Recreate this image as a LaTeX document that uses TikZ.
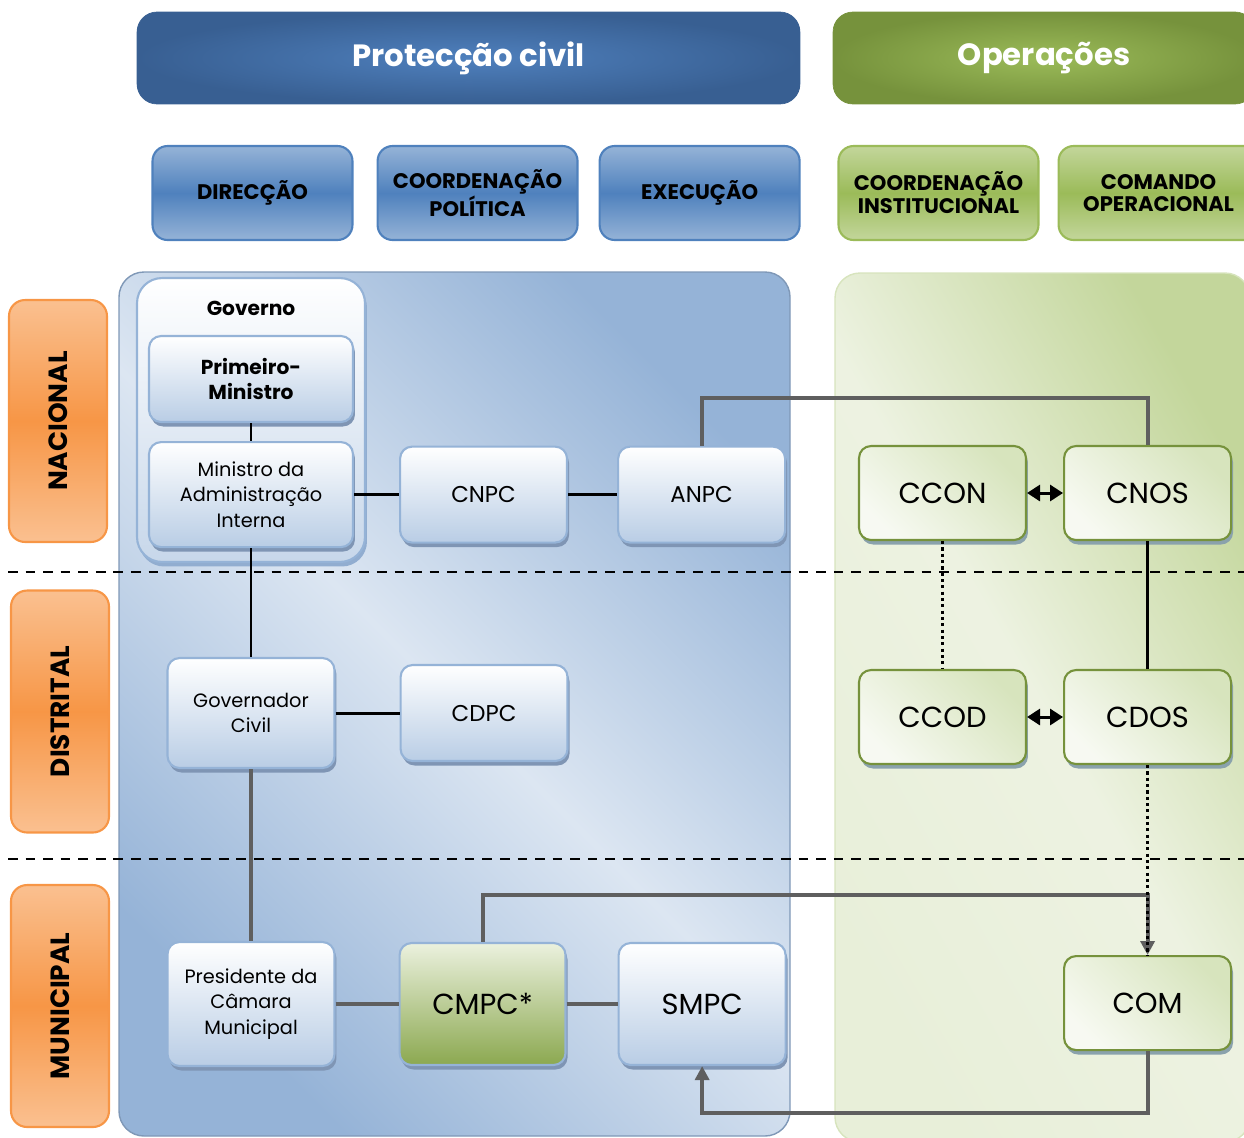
\documentclass[tikz,border=0pt]{standalone}
\usepackage{fontspec}
\setmainfont{Poppins}
\usetikzlibrary{positioning, shadows, arrows.meta}

\definecolor{pcdark}{HTML}{385F92}
\definecolor{pcmid}{HTML}{4F80BD}
\definecolor{pcline}{HTML}{4F81BD}
\definecolor{pclight}{HTML}{95B3D7}
\definecolor{pcpale}{HTML}{DCE6F2}
\definecolor{pcbox}{HTML}{B9CDE5}
\definecolor{pcshadow}{HTML}{7F95B4}
\definecolor{opdark}{HTML}{76923C}
\definecolor{opmid}{HTML}{9BBB59}
\definecolor{oplight}{HTML}{C3D69B}
\definecolor{oppale}{HTML}{EBF1DE}
\definecolor{opbox}{HTML}{D7E4BD}
\definecolor{opshadow}{HTML}{8AA2AC}
\definecolor{lvldark}{HTML}{F79646}
\definecolor{lvllight}{HTML}{FAC090}
\definecolor{linkgray}{HTML}{5F5F5F}

\tikzset{
    banner/.style={rounded corners=0.4cm, inner sep=0pt, minimum height=1.84cm,
        text=white, font=\fontsize{17.5}{20}\selectfont\bfseries},
    pcbanner/.style={banner, draw=pcdark, inner color=pcmid, outer color=pcdark},
    opbanner/.style={banner, draw=opdark, inner color=opmid, outer color=opdark},
    head/.style={rounded corners=0.3cm, line width=1.2pt, inner sep=0pt,
        minimum width=4cm, minimum height=1.88cm, align=center,
        font=\fontsize{12}{13}\selectfont\bfseries},
    pchead/.style={head, draw=pcline, top color=pclight, bottom color=pclight, middle color=pcline},
    ophead/.style={head, draw=opmid, top color=oplight, bottom color=oplight, middle color=opmid},
    lvl/.style={rounded corners=0.32cm, draw=lvldark, line width=1.2pt,
        top color=lvllight, bottom color=lvllight, middle color=lvldark,
        minimum width=1.96cm, minimum height=4.84cm, inner sep=0pt,
        font=\fontsize{15}{18}\selectfont\bfseries},
    box/.style={rounded corners=0.24cm, line width=1.2pt, inner sep=0pt, align=center,
        minimum width=3.34cm, minimum height=1.92cm},
    unit/.style={box, draw=pclight, top color=white, bottom color=pcbox,
        drop shadow={shadow xshift=0.04cm, shadow yshift=-0.09cm, fill=pcshadow, opacity=1},
        font=\fontsize{11}{14.5}\selectfont},
    mid/.style={font=\fontsize{13}{16}\selectfont},
    big/.style={font=\fontsize{16.5}{19}\selectfont},
    opunit/.style={box, draw=opdark, top color=opbox, bottom color=white!60!oppale,
        shading angle=-45, minimum height=1.88cm, big,
        drop shadow={shadow xshift=0.04cm, shadow yshift=-0.09cm, fill=opshadow, opacity=1}},
    govbox/.style={rounded corners=0.5cm, draw=pclight, line width=1.2pt,
        top color=white, bottom color=pcbox!80!white, inner sep=0pt,
        drop shadow={shadow xshift=0.04cm, shadow yshift=-0.09cm, fill=pclight!80!pcshadow, opacity=1}},
    tie/.style={draw=black, line width=1.7pt},
    feed/.style={draw=linkgray, line width=2.3pt},
    hint/.style={tie, dash pattern=on 1.8pt off 1.8pt},
    pair/.style={tie, <->, >={Triangle[length=0.26cm, width=0.32cm]}},
    feedto/.style={feed, ->, >={Triangle[length=0.28cm, width=0.28cm]}},
    border/.style={draw=black, line width=1.2pt, dash pattern=on 5.5pt off 4.5pt},
}

\begin{document}
\begin{tikzpicture}[x=0.02cm, y=-0.02cm]
    \clip (0,0) rectangle (1244,1137);

    % panels
    \draw[pclight!85!black, line width=0.8pt, rounded corners=0.5cm,
        top color=pclight, bottom color=pclight, middle color=pcpale, shading angle=-45]
        (119,272) rectangle (790,1136);
    \draw[opbox, line width=0.8pt, rounded corners=0.5cm,
        top color=oplight, bottom color=oppale!85!opbox, middle color=oppale!90!white, shading angle=-60]
        (835,273) rectangle (1250,1142);

    \draw[border] (8,572) -- (1244,572);
    \draw[border] (8,859) -- (1244,859);

    % headers
    \node[pcbanner, minimum width=13.26cm] (pc) at (468.5,58) {Protecção civil};
    \node[opbanner, minimum width=8.44cm] (op) at (1044,58) {Operações};

    \node[pchead] (dir) at (252.5,193) {DIRECÇÃO};
    \node[pchead, right=0.46cm of dir] (pol) {COORDENAÇÃO\\POLÍTICA};
    \node[pchead, right=0.4cm of pol] (exe) {EXECUÇÃO};
    \node[ophead] (inst) at (938.5,193) {COORDENAÇÃO\\INSTITUCIONAL};
    \node[ophead, right=0.36cm of inst] (cmd) {COMANDO\\OPERACIONAL};

    % levels
    \node[lvl] (nac) at (58,421) {\rotatebox{90}{NACIONAL}\hspace{0.3cm}};
    \node[lvl] (dis) at (60,711.5) {\rotatebox{90}{DISTRITAL}\hspace{0.3cm}};
    \node[lvl] (mun) at (60,1006) {\rotatebox{90}{MUNICIPAL}\hspace{0.3cm}};

    % proteccao civil
    \node[govbox, minimum width=4.56cm, minimum height=5.68cm] (gov) at (251,420) {};
    \node[font=\fontsize{11.5}{14}\selectfont\bfseries, below=0.36cm of gov.north] (govname) {Governo};
    \node[unit, minimum width=4.08cm, minimum height=1.72cm,
        font=\fontsize{11.5}{14.5}\selectfont\bfseries] (pm) at (251,379) {Primeiro-\\Ministro};
    \node[unit, minimum width=4.08cm, minimum height=2.1cm, below=0.36cm of pm] (mai)
        {Ministro da\\Administração\\Interna};
    \node[unit, mid, right=0.9cm of mai] (cnpc) {CNPC};
    \node[unit, mid, right=0.98cm of cnpc] (anpc) {ANPC};

    \node[unit, minimum height=2.2cm] (gc) at (251,713) {Governador\\Civil};
    \node[unit, mid, right=1.28cm of gc] (cdpc) {CDPC};

    \node[unit, minimum height=2.48cm] (pres) at (251,1004) {Presidente da\\Câmara\\Municipal};
    \node[unit, big, minimum width=3.32cm, minimum height=2.44cm, right=1.26cm of pres,
        top color=oppale, bottom color=opmid!90!black] (cmpc) {CMPC*};
    \node[unit, big, minimum height=2.44cm, right=1.02cm of cmpc] (smpc) {SMPC};

    % operacoes
    \node[opunit] (ccon) at (942.5,493) {CCON};
    \node[opunit, right=0.72cm of ccon] (cnos) {CNOS};
    \node[opunit] (ccod) at (942.5,717) {CCOD};
    \node[opunit, right=0.72cm of ccod] (cdos) {CDOS};
    \node[opunit, below=3.8cm of cdos] (com) {COM};

    % links
    \draw[tie] (pm) -- (mai);
    \draw[tie] (mai) -- (cnpc);
    \draw[tie] (cnpc) -- (anpc);
    \draw[tie] (mai) -- (gc);
    \draw[tie] (gc) -- (cdpc);
    \draw[feed] (gc) -- (pres);
    \draw[feed] (pres) -- (cmpc);
    \draw[feed] (cmpc) -- (smpc);
    \draw[feed] (anpc.north) -- ++(0,-48) -| (cnos.north);
    \draw[feedto] (cmpc.north) -- ++(0,-47) -| (com.north);
    \draw[feedto] (com.south) -- ++(0,62) -| (smpc.south);
    \draw[pair] (ccon) -- (cnos);
    \draw[pair] (ccod) -- (cdos);
    \draw[hint] (ccon) -- (ccod);
    \draw[tie] (cnos) -- (cdos);
    \draw[hint] (cdos) -- (com);
\end{tikzpicture}
\end{document}
